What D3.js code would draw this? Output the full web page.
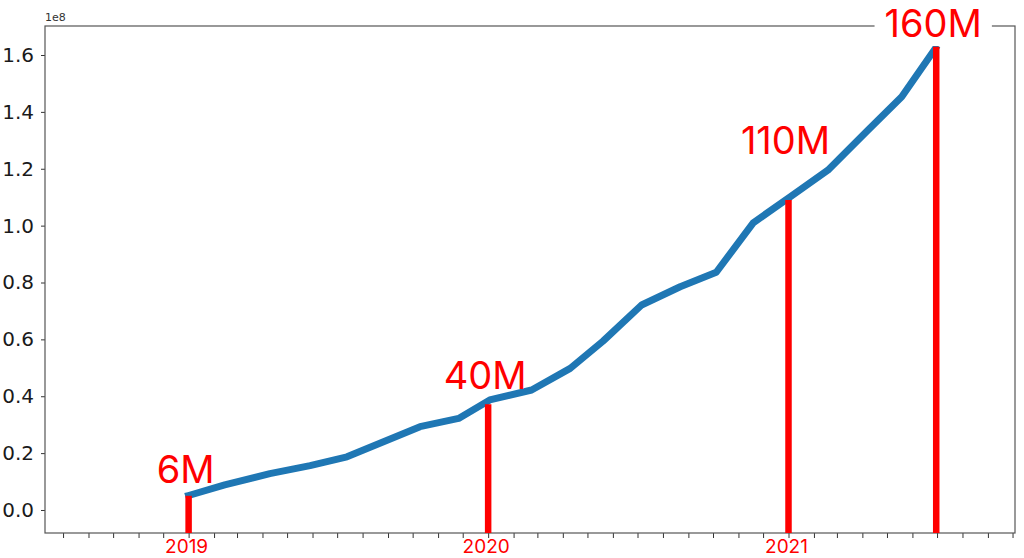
<!DOCTYPE html>
<html>
<head>
<meta charset="utf-8">
<script src="https://cdn.jsdelivr.net/npm/d3@7"></script>
<style>
  html, body { margin: 0; padding: 0; background: #fff; }
  svg { display: block; }
</style>
</head>
<body>
<svg id="chart" width="1024" height="558"></svg>
<script>
// ---- data ----
const dates = ["2019-01-01","2019-02-14","2019-04-10","2019-05-29","2019-07-13","2019-10-10","2019-11-26",
  "2020-01-03","2020-02-23","2020-04-10","2020-05-20","2020-07-06","2020-08-22","2020-10-05","2020-11-19",
  "2021-01-03","2021-02-18","2021-04-08","2021-05-19","2021-06-29"];
const users = [5.1e6, 8.8e6, 12.8e6, 15.6e6, 18.7e6, 29.3e6, 32.2e6,
  38.7e6, 42.2e6, 49.8e6, 59.4e6, 72.1e6, 78.5e6, 83.6e6, 101.0e6,
  110.1e6, 119.5e6, 133.6e6, 145.3e6, 162.3e6];
const markerDates = ["2019-01-01","2020-01-01","2021-01-01","2021-06-30"];
const markerValues = [5.0e6, 37.2e6, 109e6, 162.9e6];
const markerLabels = ["6M","40M","110M","160M"];
const labelAnchors = [9.5e6, 42.5e6, 125.2e6, 166.5e6];
const yTicks = [0, 0.2e8, 0.4e8, 0.6e8, 0.8e8, 1.0e8, 1.2e8, 1.4e8, 1.6e8];
const yearTicks = ["2019-01-01","2020-01-01","2021-01-01"];
const yearLabels = ["2019","2020","2021"];

// ---- layout ----
const parse = d3.utcParse("%Y-%m-%d");
const L = 45, R = 1015, T = 26, B = 533;
const x = d3.scaleUtc()
  .domain([parse("2018-07-10"), parse("2021-10-04")])
  .range([L, R]);
const y = d3.scaleLinear()
  .domain([-0.0809e8, 1.702e8])
  .range([B, T]);

const svg = d3.select("#chart");
const redFont = "Inter, 'Noto Sans', sans-serif";
const axFont = "'DejaVu Sans', sans-serif";

// y axis
const yAxis = d3.axisLeft(y).tickValues(yTicks).tickSize(4).tickPadding(7)
  .tickFormat(d => (d / 1e8).toFixed(1));
const gy = svg.append("g").attr("transform", `translate(${L},0)`).call(yAxis);
gy.select(".domain").remove();
gy.selectAll("line").attr("stroke", "#333").attr("stroke-width", 1);
gy.selectAll("text").attr("font-family", axFont).attr("font-size", 20).attr("fill", "#1a1a1a");

// x axis (monthly ticks)
const months = d3.utcMonth.range(x.domain()[0], x.domain()[1]);
const xAxis = d3.axisBottom(x).tickValues(months).tickSize(5).tickFormat("");
const gx = svg.append("g").attr("transform", `translate(0,${B})`).call(xAxis);
gx.select(".domain").remove();
gx.selectAll("line").attr("stroke", "#333").attr("stroke-width", 1);

// year labels
svg.append("g").selectAll("text").data(yearTicks).join("text")
  .attr("x", d => x(parse(d)) - 2)
  .attr("y", 553)
  .attr("text-anchor", "middle")
  .attr("font-family", redFont)
  .attr("font-size", 19)
  .attr("fill", "#ff0000")
  .text((d, i) => yearLabels[i]);

// 1e8 offset label
svg.append("text").attr("x", L).attr("y", 21)
  .attr("font-family", axFont).attr("font-size", 11).attr("fill", "#333").text("1e8");

// frame
svg.append("rect").attr("x", L).attr("y", T).attr("width", R - L).attr("height", B - T)
  .attr("fill", "none").attr("stroke", "#555").attr("stroke-width", 1.2);

// blue line
const series = dates.map((d, i) => ({ date: parse(d), v: users[i] }));
svg.append("path").datum(series)
  .attr("d", d3.line().x(d => x(d.date)).y(d => y(d.v)))
  .attr("fill", "none").attr("stroke", "#1f77b4").attr("stroke-width", 7)
  .attr("stroke-linejoin", "round").attr("stroke-linecap", "square");

// red markers
const markers = markerDates.map((d, i) => ({ date: parse(d), v: markerValues[i], label: markerLabels[i], ly: labelAnchors[i] }));
svg.append("g").selectAll("line").data(markers).join("line")
  .attr("x1", d => x(d.date)).attr("x2", d => x(d.date))
  .attr("y1", B).attr("y2", d => y(d.v))
  .attr("stroke", "#ff0000").attr("stroke-width", 6.5);

// labels with white background
const lg = svg.append("g");
markers.forEach(d => {
  const t = lg.append("text")
    .attr("x", x(d.date) - 3)
    .attr("y", y(d.ly))
    .attr("text-anchor", "middle")
    .attr("font-family", redFont)
    .attr("font-size", 38)
    .attr("fill", "#ff0000")
    .text(d.label);
  if (d.label === "160M") {
    const bb = t.node().getBBox();
    lg.insert("rect", "text").attr("x", bb.x - 10).attr("y", Math.max(0, bb.y)).attr("width", bb.width + 20).attr("height", bb.height)
      .attr("fill", "#fff");
  }
});
</script>
</body>
</html>
